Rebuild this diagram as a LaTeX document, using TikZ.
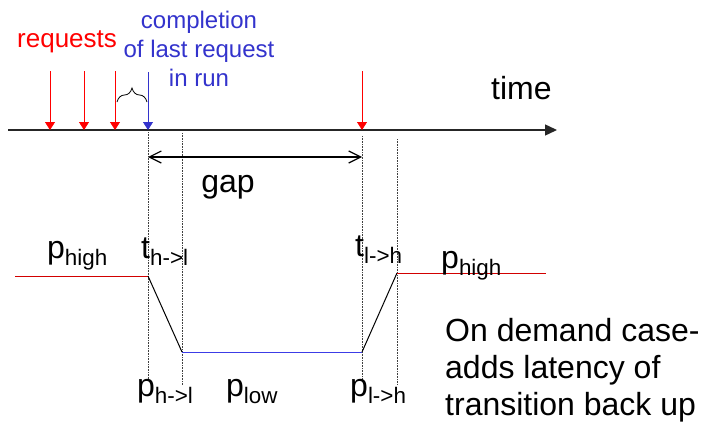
\documentclass[tikz,border=0pt]{standalone}
\usepackage{fontspec}
\setmainfont{Liberation Sans}
\usetikzlibrary{arrows.meta, decorations.pathreplacing}
\definecolor{reqred}{RGB}{255,0,0}
\definecolor{highred}{RGB}{210,0,0}
\definecolor{runblue}{RGB}{51,51,204}
\definecolor{lowblue}{RGB}{60,60,230}

\begin{document}
\begin{tikzpicture}[
        x = 1pt, y = -1pt,
        big/.style = {inner sep=0pt, font=\fontsize{32}{37}\selectfont},
        req/.style = {draw=reqred, line width=0.8pt, -{Triangle[length=8pt, width=10pt]}},
        fin/.style = {draw=runblue, line width=0.8pt, -{Triangle[length=8pt, width=10pt]}},
        guide/.style = {densely dotted, black!75, line width=0.6pt},
        level/.style = {line width=1pt},
    ]
        \useasboundingbox (0,0) rectangle (704,423);
        % time axis
        \coordinate (t0) at (8,130);
        \coordinate (t1) at (557,130);
        \draw[black!85, line width=1.4pt, -{Triangle[length=12pt, width=11pt]}] (t0) -- (t1);
        \node[big, anchor=base west] (time) at (491,99) {time};
        % requests
        \node[inner sep=0pt, anchor=base west, text=reqred, font=\fontsize{26}{30}\selectfont] (reqs) at (17,47) {requests};
        \foreach \x [count=\i] in {50, 84, 115, 362} {
            \coordinate (r\i top) at (\x,71);
            \coordinate (r\i) at (\x,130);
            \draw[req] (r\i top) -- (r\i);
        }
        \coordinate (lasttop) at (148,72);
        \coordinate (last) at (148,130);
        \draw[fin] (lasttop) -- (last);
        \node[inner sep=0pt, anchor=base, align=center, text=runblue, font=\fontsize{24}{29}\selectfont] (comp) at (199,86) {completion\\of last request\\in run};
        \coordinate (bl) at (117,102);
        \coordinate (br) at (147,102);
        \draw[decorate, decoration={brace, amplitude=14pt}, line width=0.8pt] (bl) -- (br);
        % guides
        \coordinate (g1a) at (148,132); \coordinate (g1b) at (148,380);
        \coordinate (g2a) at (182,133); \coordinate (g2b) at (182,385);
        \coordinate (g3a) at (362,136); \coordinate (g3b) at (362,382);
        \coordinate (g4a) at (397,139); \coordinate (g4b) at (397,385);
        \foreach \g in {1,...,4}
            \draw[guide] (g\g a) -- (g\g b);
        % gap
        \coordinate (gapl) at (148,157);
        \coordinate (gapr) at (362,157);
        \draw[line width=1.2pt, {Straight Barb[length=12pt, width=12pt]}-{Straight Barb[length=12pt, width=12pt]}] (gapl) -- (gapr);
        \node[big, anchor=base] (gap) at (228,192) {gap};
        % power levels
        \coordinate (h0) at (15,276);
        \coordinate (hl) at (148,276);
        \coordinate (l0) at (182,352);
        \coordinate (l1) at (362,352);
        \coordinate (lh) at (397,273);
        \coordinate (h1) at (546,273);
        \draw[level, highred] (h0) -- (hl);
        \draw[level] (hl) -- (l0);
        \draw[level, lowblue] (l0) -- (l1);
        \draw[level] (l1) -- (lh);
        \draw[level, highred] (lh) -- (h1);
        \node[big, anchor=base west] (phigh) at (47,258) {p\textsubscript{high}};
        \node[big, anchor=base west] (thl) at (141,258) {t\textsubscript{h->l}};
        \node[big, anchor=base west] (tlh) at (355,256) {t\textsubscript{l->h}};
        \node[big, anchor=base west] (phigh2) at (441,268) {p\textsubscript{high}};
        \node[big, anchor=base west] (phl) at (137,396) {p\textsubscript{h->l}};
        \node[big, anchor=base west] (plow) at (226,396) {p\textsubscript{low}};
        \node[big, anchor=base west] (plh) at (350,396) {p\textsubscript{l->h}};
        \node[big, anchor=base west, align=left] (note) at (445,415) {On demand case-\\adds latency of\\transition back up};
    \end{tikzpicture}
\end{document}
